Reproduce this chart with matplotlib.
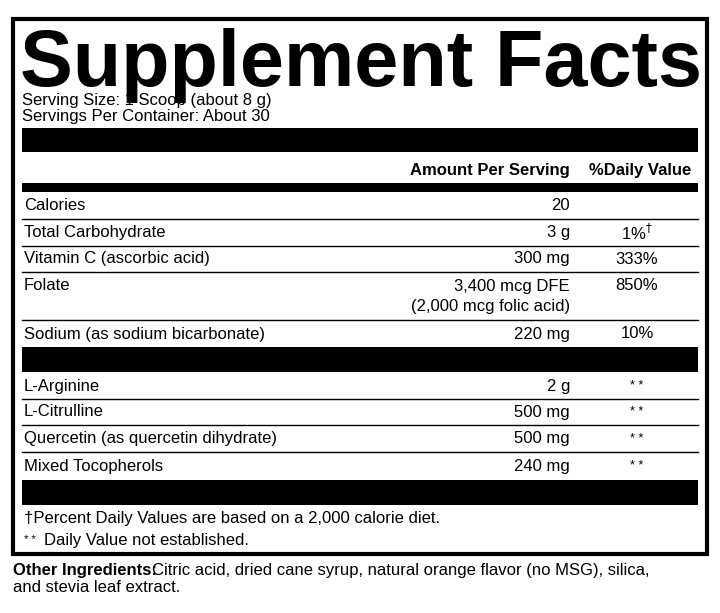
import matplotlib.pyplot as plt
from matplotlib.patches import Rectangle

plt.rcParams['font.family'] = ['Liberation Sans', 'DejaVu Sans']

# label rows: name, amount, daily value, y of text
nutrients = ['Calories', 'Total Carbohydrate', 'Vitamin C (ascorbic acid)', 'Folate',
             'Sodium (as sodium bicarbonate)']
amounts = ['20', '3 g', '300 mg', '3,400 mcg DFE', '220 mg']
daily = ['', '1%$^{\u2020}$', '333%', '850%', '10%']
nutrient_y = [206, 233, 259, 286, 334]
row_lines = [219, 246, 272, 320]

others = ['L-Arginine', 'L-Citrulline', 'Quercetin (as quercetin dihydrate)', 'Mixed Tocopherols']
other_amounts = ['2 g', '500 mg', '500 mg', '240 mg']
other_y = [386, 412, 439, 466]
other_lines = [399, 425, 452]

fig = plt.figure(figsize=(7.2, 6.13), dpi=100)
ax = fig.add_axes([0, 0, 1, 1])
ax.set_xlim(0, 720)
ax.set_ylim(613, 0)
ax.axis('off')

L, R = 22, 698
fs = 12

# outer border
ax.add_patch(Rectangle((13, 19), 694, 535, fill=False, lw=3, ec='black'))

ax.text(L - 2, 86, 'Supplement Facts', fontsize=57, fontweight='bold', va='baseline', ha='left')
ax.text(L, 100, 'Serving Size: 1 Scoop (about 8 g)', fontsize=fs, va='center')
ax.text(L, 117, 'Servings Per Container: About 30', fontsize=fs, va='center')

# black bars
for y0, h in [(128, 24), (183, 9), (347, 25), (480, 25)]:
    ax.add_patch(Rectangle((L, y0), R - L, h, color='black', lw=0))

ax.text(570, 170, 'Amount Per Serving', fontsize=fs, fontweight='bold', ha='right', va='center')
ax.text(691, 170, '%Daily Value', fontsize=fs, fontweight='bold', ha='right', va='center')

for y in row_lines + other_lines:
    ax.plot([L, R], [y, y], color='black', lw=1)

for n, a, d, y in zip(nutrients, amounts, daily, nutrient_y):
    ax.text(L + 2, y, n, fontsize=fs, va='center')
    ax.text(570, y, a, fontsize=fs, va='center', ha='right')
    ax.text(637, y, d, fontsize=fs, va='center', ha='center')
ax.text(570, 306, '(2,000 mcg folic acid)', fontsize=fs, va='center', ha='right')

for n, a, y in zip(others, other_amounts, other_y):
    ax.text(L + 2, y, n, fontsize=fs, va='center')
    ax.text(570, y, a, fontsize=fs, va='center', ha='right')
    ax.text(637, y, '* *', fontsize=9, va='center', ha='center')

ax.text(L + 2, 519, '\u2020Percent Daily Values are based on a 2,000 calorie diet.', fontsize=fs, va='center')
ax.text(L + 2, 540, '* *', fontsize=8, va='center')
ax.text(L + 22, 540, 'Daily Value not established.', fontsize=fs, va='center')

ax.text(13, 570, 'Other Ingredients:', fontsize=fs, fontweight='bold', va='center')
ax.text(152, 570, 'Citric acid, dried cane syrup, natural orange flavor (no MSG), silica,',
        fontsize=fs, va='center')
ax.text(13, 588, 'and stevia leaf extract.', fontsize=fs, va='center')

fig.savefig('out.png', dpi=100)
